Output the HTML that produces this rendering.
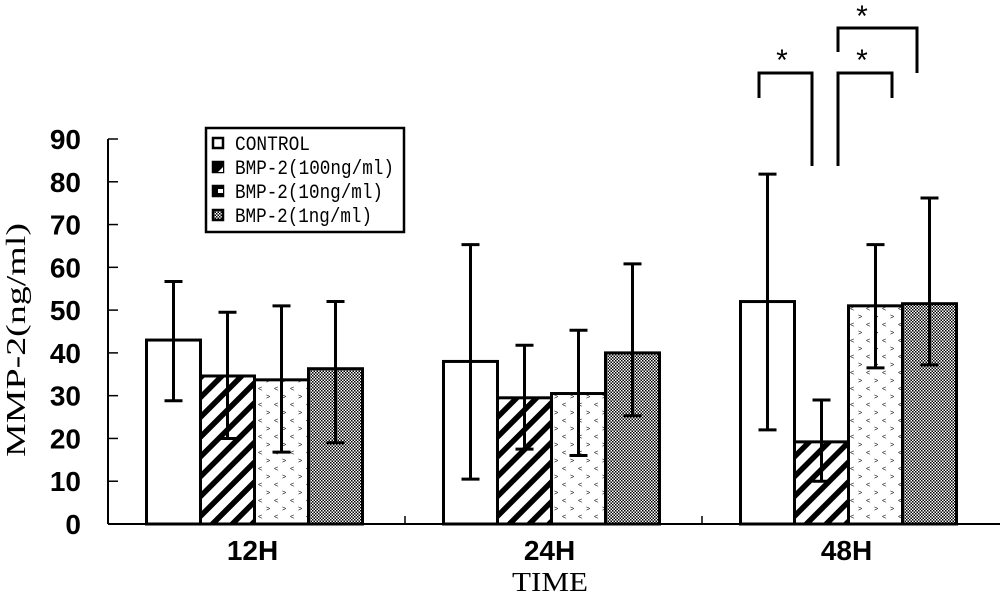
<!DOCTYPE html>
<html><head><meta charset="utf-8"><style>
html,body{margin:0;padding:0;background:#fff;}
svg{display:block;}
.tk{font-family:"Liberation Sans",Arial,sans-serif;font-weight:bold;font-size:28px;}
.mono{font-family:"Liberation Serif","Noto Serif CJK SC",serif;}
.lgt{font-family:"Liberation Mono","Noto Sans CJK SC",monospace;}
</style></head><body>
<svg id="chart" width="1000" height="595" viewBox="0 0 1000 595" xmlns="http://www.w3.org/2000/svg">
<defs>
<pattern id="hatch" patternUnits="userSpaceOnUse" width="14" height="14" patternTransform="rotate(45)">
<rect width="14" height="14" fill="#fff"/><rect x="0" y="0" width="5.5" height="14" fill="#000"/>
</pattern>
<pattern id="dots" patternUnits="userSpaceOnUse" width="16" height="16">
<rect width="16" height="16" fill="#fff"/>
<text x="2" y="7" font-size="7" font-family="Liberation Mono,monospace" fill="#000">&lt;</text>
<text x="10" y="15" font-size="7" font-family="Liberation Mono,monospace" fill="#000">&gt;</text>
</pattern>
<pattern id="check" patternUnits="userSpaceOnUse" width="3" height="3">
<rect width="3" height="3" fill="#fff"/><rect width="1.5" height="1.5" fill="#000"/><rect x="1.5" y="1.5" width="1.5" height="1.5" fill="#000"/>
</pattern>
</defs>
<g id="plot"></g>
</svg>
<script>
const categories = ["12H","24H","48H"];
const seriesNames = ["CONTROL","BMP-2(100ng/ml)","BMP-2(10ng/ml)","BMP-2(1ng/ml)"];
const controlVals = [43, 38, 52];
const bmp100Vals = [34.6, 29.5, 19.2];
const bmp10Vals = [33.7, 30.5, 51];
const bmp1Vals = [36.3, 40, 51.5];
const controlLo = [28.8, 10.5, 22];
const controlHi = [56.7, 65.3, 81.8];
const bmp100Lo = [20, 17.5, 10];
const bmp100Hi = [49.5, 41.8, 29];
const bmp10Lo = [16.8, 16, 36.5];
const bmp10Hi = [51, 45.3, 65.3];
const bmp1Lo = [19, 25.3, 37.2];
const bmp1Hi = [52, 60.8, 76.2];
const yTicks = [0,10,20,30,40,50,60,70,80,90];

const series = [controlVals,bmp100Vals,bmp10Vals,bmp1Vals];
const los = [controlLo,bmp100Lo,bmp10Lo,bmp1Lo];
const his = [controlHi,bmp100Hi,bmp10Hi,bmp1Hi];
const fills = ["#fff","url(#hatch)","url(#dots)","url(#check)"];
const NS="http://www.w3.org/2000/svg";
const g=document.getElementById('plot');
const X0=108,X1=999,Y0=524,Y90=139;
const y=v=>Y0-(v/90)*(Y0-Y90);
const band=(X1-X0)/categories.length;
const barW=54;
const xBar=(ci,si)=>X0+band*ci+band/2-2*barW+si*barW-2;
function el(t,a,p){const e=document.createElementNS(NS,t);for(const k in a)e.setAttribute(k,a[k]);(p||g).appendChild(e);return e;}

let ax=el('line',{x1:X0,y1:Y0,x2:1000,y2:Y0,stroke:'#000','stroke-width':2});


let ay=el('line',{x1:X0,y1:Y0,x2:X0,y2:Y90,stroke:'#000','stroke-width':2});


yTicks.forEach(t=>{
  const l=el('line',{x1:X0,y1:y(t),x2:X0+10,y2:y(t),stroke:'#000','stroke-width':1.5});
  
  
  const tx=el('text',{x:81,y:y(t)+10,'text-anchor':'end',class:'tk'});
  tx.textContent=t;
  
  
});
categories.forEach((c,ci)=>{
  if(ci>0){const l=el('line',{x1:X0+band*ci,y1:Y0,x2:X0+band*ci,y2:Y0-8,stroke:'#000','stroke-width':1.5});
  
  }
  const tx=el('text',{x:X0+band*ci+band/2-4,y:560,'text-anchor':'middle',class:'tk'});
  tx.textContent=c;
  
  
});
series.forEach((vals,si)=>{
  vals.forEach((v,ci)=>{
    const x=xBar(ci,si);
    const r=el('rect',{x:x,y:y(v),width:barW,height:Y0-y(v),fill:fills[si],stroke:'#000','stroke-width':3});
    
    
    const cx=x+barW/2,lo=los[si][ci],hi=his[si][ci];
    const eg=el('g',{stroke:'#000','stroke-width':3});
    
    
    el('line',{x1:cx,y1:y(hi),x2:cx,y2:y(lo)},eg);
    el('line',{x1:cx-9,y1:y(hi),x2:cx+9,y2:y(hi)},eg);
    el('line',{x1:cx-9,y1:y(lo),x2:cx+9,y2:y(lo)},eg);
  });
});
const br=[[759,73,98,812,166],[838,28,52,917,73],[838,73,166,892,98]];
br.forEach(b=>{
  const p=el('path',{d:`M${b[0]} ${b[2]}V${b[1]}H${b[3]}V${b[4]}`,fill:'none',stroke:'#000','stroke-width':3});
  
  
});
[[782,70],[862,70],[862,26]].forEach(s=>{
  const t=el('text',{x:s[0],y:s[1],'text-anchor':'middle','font-size':30,'font-family':'Liberation Sans,sans-serif'});
  t.textContent='*';
  
  
});
const lg=el('g',{});


el('rect',{x:206,y:128,width:198,height:104,fill:'#fff',stroke:'#000','stroke-width':2.5},lg);
const textLens=[75,159,148,137];
seriesNames.forEach((n,i)=>{
  const eg=el('g',{},lg);
  
  
  const cy=143+i*24;
  el('rect',{x:213,y:cy-5,width:10,height:10,fill:i==0?'#fff':(i==3?'url(#check)':'#000'),stroke:'#000','stroke-width':2.5},eg);
  if(i==1) el('path',{d:`M${218} ${cy+5}L${223} ${cy}V${cy+5}Z`,fill:'#fff'},eg);
  if(i==2) el('rect',{x:218,y:cy-2,width:5,height:4,fill:'#fff'},eg);
  const t=el('text',{x:235,y:cy+7,'font-size':20,class:'lgt',textLength:textLens[i],lengthAdjust:'spacingAndGlyphs'},eg);
  t.textContent=n;
});
const yt=el('text',{x:0,y:0,'font-size':27,class:'mono','text-anchor':'middle',textLength:234,lengthAdjust:'spacingAndGlyphs',transform:'translate(25,340) rotate(-90)'});
yt.textContent='MMP-2(ng/ml)';


const xt=el('text',{x:550,y:591,'font-size':27,class:'mono','text-anchor':'middle',textLength:76,lengthAdjust:'spacingAndGlyphs'});
xt.textContent='TIME';


</script>
</body></html>
